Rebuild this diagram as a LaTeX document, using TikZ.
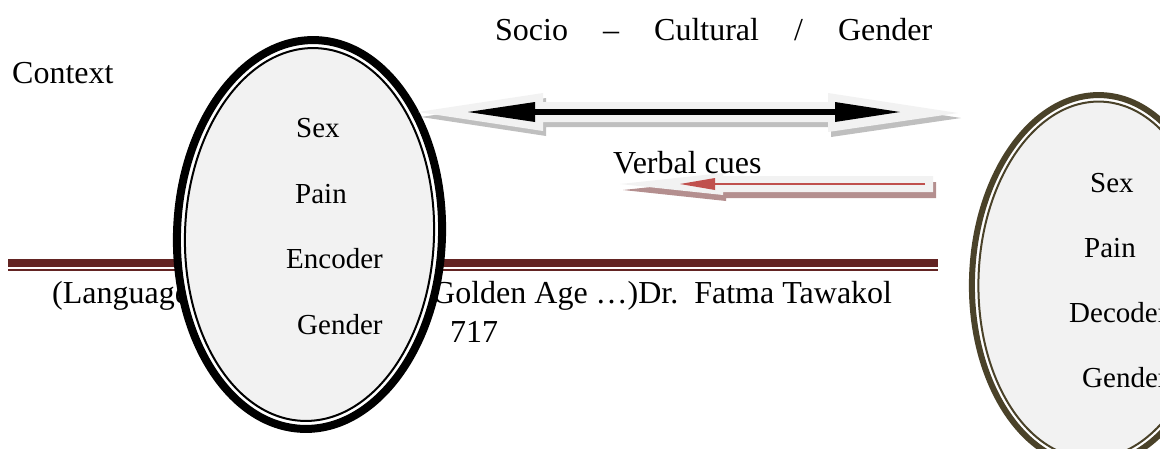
\documentclass[tikz,border=0pt]{standalone}
\usepackage{fontspec}
\setmainfont{Liberation Serif}
\usepackage{xcolor}
\usetikzlibrary{shapes.geometric,arrows.meta,positioning}
\definecolor{boxgray}{HTML}{F2F2F2}
\definecolor{shadowgray}{HTML}{BFBFBF}
\definecolor{redshadow}{HTML}{B48F8F}
\definecolor{cuered}{HTML}{C0504D}
\definecolor{rulemaroon}{HTML}{632423}
\definecolor{ringolive}{HTML}{4A4229}
\tikzset{
	txt/.style={inner sep=0pt, anchor=base west, font=\fontsize{32}{38}\selectfont},
	intxt/.style={inner sep=0pt, anchor=base west, font=\fontsize{29}{35}\selectfont},
	ring/.style={ellipse, draw=#1, inner sep=0pt, rotate=-2}
}

\begin{document}
\begin{tikzpicture}[x=1pt,y=-1pt]
  \useasboundingbox (0,0) rectangle (1160,448);

  % page rule and footer
  \coordinate (ruleL) at (8,263);
  \coordinate (ruleR) at (938,263);
  \draw[rulemaroon, line width=8pt] (ruleL) -- (ruleR);
  \draw[rulemaroon, line width=2pt] ([yshift=-7pt]ruleL) -- ([yshift=-7pt]ruleR);
  \node[txt] (lang) at (52,303) {(Language};
  \node[txt] (golden) at (432,303) {Golden Age …)Dr.\ \ Fatma Tawakol};
  \node[txt] (page) at (450,342) {717};

  % encoder
  \node[ring=black, line width=8pt, fill=white, minimum width=265pt, minimum height=389pt] (enc) at (309.5,234.5) {};
  \node[ring=black, line width=2pt, fill=boxgray, minimum width=249pt, minimum height=373pt] (encin) at (enc.center) {};
  \node[intxt] (sexL) at (296,137) {Sex};
  \node[intxt] (painL) at (295,203) {Pain};
  \node[intxt] (encoder) at (286,268) {Encoder};
  \node[intxt] (genderL) at (297,334) {Gender};

  % decoder
  \node[ring=ringolive, line width=6pt, fill=white, minimum width=246pt, minimum height=370pt] (dec) at (1095,280) {};
  \node[ring=ringolive, line width=2pt, fill=boxgray, minimum width=233pt, minimum height=357pt] (decin) at (dec.center) {};
  \node[intxt] (sexR) at (1090,192) {Sex};
  \node[intxt] (painR) at (1084,257) {Pain};
  \node[intxt] (decoder) at (1069,322) {Decoder};
  \node[intxt] (genderR) at (1082,387) {Gender};

  % block arrows
  \foreach \dx/\dy/\c in {3/5/shadowgray, 0/0/boxgray}
    \fill[\c, shift={(\dx,\dy)}] (418,112) -- (543,93) -- (543,102) -- (828,102) -- (828,93)
      -- (958,113) -- (828,132) -- (828,122) -- (543,122) -- (543,131) -- cycle;
  \foreach \dx/\dy/\c in {3/6/redshadow, 0/0/boxgray}
    \fill[\c, shift={(\dx,\dy)}] (620,184) -- (723,173) -- (723,176) -- (933,176)
      -- (933,192) -- (723,192) -- (723,195) -- cycle;

  \coordinate (cueL) at (468,112);
  \coordinate (cueR) at (900,112);
  \draw[line width=6pt, {Triangle[length=67pt,width=20pt,line width=0pt]}-{Triangle[length=65pt,width=20pt,line width=0pt]}] (cueL) -- (cueR);
  \coordinate (vcR) at (925,184);
  \coordinate (vcL) at (680,184);
  \draw[cuered, line width=1.5pt, -{Triangle[length=35pt,width=12pt,line width=0pt]}] (vcR) -- (vcL);

  % labels
  \node[txt] (context) at (12,83) {Context};
  \node[txt] (socio) at (495,40) {\makebox[437pt][s]{Socio – Cultural / Gender}};
  \node[txt] (verbal) at (613,173) {Verbal cues};
\end{tikzpicture}
\end{document}
